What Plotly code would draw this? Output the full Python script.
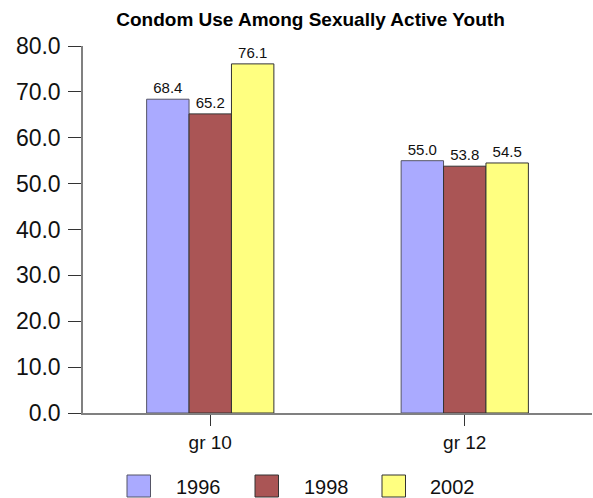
import plotly.graph_objects as go

categories = ["gr 10", "gr 12"]
years = ["1996", "1998", "2002"]
values_1996 = [68.4, 55.0]
values_1998 = [65.2, 53.8]
values_2002 = [76.1, 54.5]
y_ticks = [0, 10, 20, 30, 40, 50, 60, 70, 80]

series = [values_1996, values_1998, values_2002]
colors = ["#AAAAFF", "#AA5555", "#FFFF80"]
outlines = ["#555566", "#333333", "#333333"]

W, H = 593, 498
L, R, T, B = 83, 1, 46, 85
FONT = "Liberation Sans, Arial, sans-serif"

fig = go.Figure()
for name, vals, c, oc in zip(years, series, colors, outlines):
    fig.add_trace(go.Bar(
        x=categories, y=vals, name=name,
        marker=dict(color=c, line=dict(color=oc, width=1)),
        texttemplate="%{y:.1f}", textposition="outside",
        textfont=dict(size=15, color="#111111", family=FONT),
        cliponaxis=False, showlegend=False,
    ))

pw = W - L - R
ph = H - T - B


def px_x(px):
    return (px - L) / pw


def px_y(py):
    return (H - B - py) / ph


shapes = []
annotations = []
sw_left = [127, 255, 382]
txt_left = [174, 302, 428]
for i, name in enumerate(years):
    shapes.append(dict(type="rect", xref="paper", yref="paper",
                       x0=px_x(sw_left[i]), x1=px_x(sw_left[i] + 23.5),
                       y0=px_y(497), y1=px_y(475),
                       fillcolor=colors[i], line=dict(color=outlines[i], width=1)))
    annotations.append(dict(xref="paper", yref="paper", x=px_x(txt_left[i]), y=px_y(487),
                            xanchor="left", yanchor="middle", showarrow=False,
                            text=name, font=dict(size=20, color="#111111", family=FONT)))

fig.update_layout(
    width=W, height=H,
    margin=dict(l=L, r=R, t=T, b=B),
    paper_bgcolor="white", plot_bgcolor="white",
    barmode="group", bargap=0.5, bargroupgap=0,
    title=dict(text="<b>Condom Use Among Sexually Active Youth</b>",
               xref="container", yref="container",
               x=310.5 / W, y=1 - 19 / H, xanchor="center", yanchor="middle",
               font=dict(size=19, color="#000000", family=FONT)),
    font=dict(family=FONT, color="#000000"),
    shapes=shapes, annotations=annotations,
    xaxis=dict(showline=True, linecolor="#808080", linewidth=1.5,
               ticks="outside", ticklen=11, tickcolor="#333333", tickwidth=1,
               tickfont=dict(size=19, color="#111111"), showgrid=False),
    yaxis=dict(range=[0, 80], tickvals=y_ticks, tickformat=".1f",
               showline=True, linecolor="#808080", linewidth=1.5,
               ticks="outside", ticklen=13, tickcolor="#333333", tickwidth=1,
               ticklabelstandoff=3,
               tickfont=dict(size=23, color="#111111"), showgrid=False, zeroline=False),
)

fig.write_html("out.html", config={"displayModeBar": False},
               post_script="document.body.style.margin='0px';document.body.style.overflow='hidden';")
